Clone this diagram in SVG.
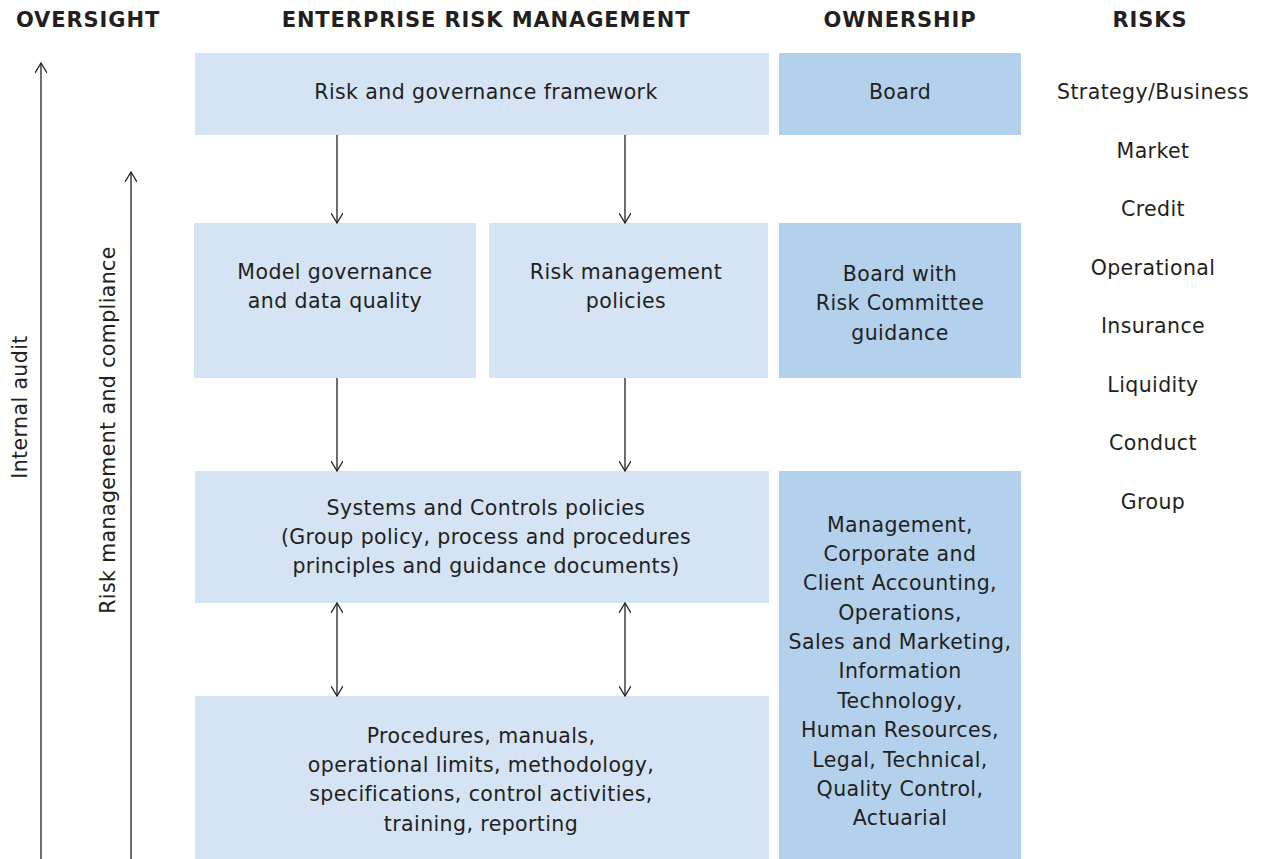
<svg xmlns="http://www.w3.org/2000/svg" width="1261" height="859" viewBox="0 0 1261 859">
<style>
text{font-family:"DejaVu Sans",Verdana,sans-serif;font-size:20.5px;letter-spacing:0.4px;fill:#231f20;text-anchor:middle}
.h{font-weight:bold;font-size:21px;letter-spacing:0.9px}
.l{fill:#d4e4f4}
.d{fill:#b3d1ed}
.c line,.c path{stroke:#231f20;stroke-width:1.3;fill:none}
</style>
<defs>
<marker id="ah" viewBox="0 0 12 12" refX="11" refY="6" markerWidth="12" markerHeight="12" markerUnits="userSpaceOnUse" orient="auto-start-reverse">
<path d="M1,0 L11,6 L1,12" fill="none" stroke="#231f20" stroke-width="1.3"/>
</marker>
</defs>
<rect width="1261" height="859" fill="#fff"/>
<g id="headers">
<text class="h" x="88" y="27">OVERSIGHT</text>
<text class="h" x="486" y="27">ENTERPRISE RISK MANAGEMENT</text>
<text class="h" x="900" y="27">OWNERSHIP</text>
<text class="h" x="1150" y="27">RISKS</text>
</g>
<g id="n-framework"><rect class="l" x="195" y="53" width="574" height="82"/><text x="486" y="99">Risk and governance framework</text></g>
<g id="n-board"><rect class="d" x="779" y="53" width="242" height="82"/><text x="900" y="99">Board</text></g>
<g id="n-model"><rect class="l" x="194" y="223" width="282" height="155"/><text x="335" y="279">Model governance</text><text x="335" y="308">and data quality</text></g>
<g id="n-policies"><rect class="l" x="489" y="223" width="279" height="155"/><text x="626" y="279">Risk management</text><text x="626" y="308">policies</text></g>
<g id="n-boardrisk"><rect class="d" x="779" y="223" width="242" height="155"/><text x="900" y="281">Board with</text><text x="900" y="310">Risk Committee</text><text x="900" y="340">guidance</text></g>
<g id="n-systems"><rect class="l" x="195" y="471" width="574" height="132"/><text x="486" y="515">Systems and Controls policies</text><text x="486" y="544">(Group policy, process and procedures</text><text x="486" y="573">principles and guidance documents)</text></g>
<g id="n-procedures"><rect class="l" x="195" y="696" width="574" height="163"/><text x="481" y="743">Procedures, manuals,</text><text x="481" y="772">operational limits, methodology,</text><text x="481" y="801">specifications, control activities,</text><text x="481" y="831">training, reporting</text></g>
<g id="n-management"><rect class="d" x="779" y="471" width="242" height="388"/>
<text x="900" y="532">Management,</text><text x="900" y="561">Corporate and</text><text x="900" y="590">Client Accounting,</text><text x="900" y="620">Operations,</text><text x="900" y="649">Sales and Marketing,</text><text x="900" y="678">Information</text><text x="900" y="708">Technology,</text><text x="900" y="737">Human Resources,</text><text x="900" y="767">Legal, Technical,</text><text x="900" y="796">Quality Control,</text><text x="900" y="825">Actuarial</text></g>
<g id="risks">
<text x="1153" y="99">Strategy/Business</text>
<text x="1153" y="158">Market</text>
<text x="1153" y="216">Credit</text>
<text x="1153" y="275">Operational</text>
<text x="1153" y="333">Insurance</text>
<text x="1153" y="392">Liquidity</text>
<text x="1153" y="450">Conduct</text>
<text x="1153" y="509">Group</text>
</g>
<g id="oversight-labels">
<text transform="translate(27,407) rotate(-90)">Internal audit</text>
<text transform="translate(115,430) rotate(-90)">Risk management and compliance</text>
</g>
<g id="connectors" class="c">
<line x1="41" y1="859" x2="41" y2="63" marker-end="url(#ah)"/>
<line x1="131" y1="859" x2="131" y2="172" marker-end="url(#ah)"/>
<line x1="337" y1="135" x2="337" y2="223" marker-end="url(#ah)"/>
<line x1="625" y1="135" x2="625" y2="223" marker-end="url(#ah)"/>
<line x1="337" y1="378" x2="337" y2="471" marker-end="url(#ah)"/>
<line x1="625" y1="378" x2="625" y2="471" marker-end="url(#ah)"/>
<line x1="337" y1="603" x2="337" y2="696" marker-start="url(#ah)" marker-end="url(#ah)"/>
<line x1="625" y1="603" x2="625" y2="696" marker-start="url(#ah)" marker-end="url(#ah)"/>
</g>
</svg>
